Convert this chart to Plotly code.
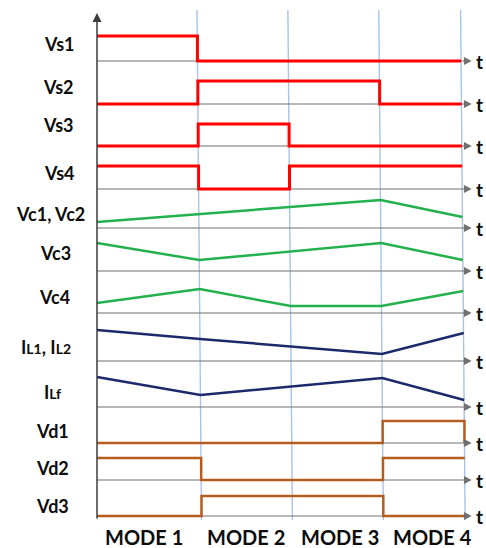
import plotly.graph_objects as go

W, H = 486, 548

# ---- time base -------------------------------------------------------------
# Mode boundaries on the time axis (arbitrary time units)
mode_edges = [0.0, 0.99, 1.89, 2.79, 3.60]
mode_names = ["MODE 1", "MODE 2", "MODE 3", "MODE 4"]

# ---- waveform data ---------------------------------------------------------
row_names = ["Vs1", "Vs2", "Vs3", "Vs4", "Vc1, Vc2", "Vc3", "Vc4",
             "IL1, IL2", "ILf", "Vd1", "Vd2", "Vd3"]

# Gate / diode signals: level held in each of the four modes
vs1_levels = [1.00, 0.00, 0.00, 0.00]
vs2_levels = [0.00, 0.92, 0.92, 0.00]
vs3_levels = [0.00, 0.88, 0.00, 0.00]
vs4_levels = [0.92, 0.00, 0.92, 0.92]
vd1_levels = [0.00, 0.00, 0.00, 0.88]
vd2_levels = [0.88, 0.00, 0.00, 0.88]
vd3_levels = [0.00, 0.80, 0.80, 0.00]
# level reached right after the last boundary (None = line just stops)
vd1_after = 0.0

# Capacitor voltages / inductor currents: values at the mode boundaries
vc12_t = [0, 1, 3, 4]
vc12_v = [0.24, 0.56, 1.12, 0.44]
vc3_t = [0, 1, 3, 4]
vc3_v = [1.12, 0.44, 1.12, 0.44]
vc4_t = [0, 1, 2, 3, 4]
vc4_v = [0.40, 0.96, 0.28, 0.28, 0.88]
il12_t = [0, 1, 3, 4]
il12_v = [1.24, 0.88, 0.28, 1.12]
ilf_t = [0, 1, 3, 4]
ilf_v = [1.20, 0.48, 1.16, 0.28]

# ---- layout constants ------------------------------------------------------
px_per_t = 101.0
origin_px = 97.0
baseline_px = [61, 104, 146, 189, 228, 271, 313, 361, 407, 443, 480, 516]
unit_px = 25.0
lo, hi = -0.4, 1.5
skew_t = 0.045          # mode lines lean slightly to the right towards the bottom
label_pos = [(59, 44), (58, 87), (58, 125), (59, 173), (50, 214), (55, 253),
             (54, 297), (46, 347), (52, 392), (52, 431), (52, 468), (52, 506)]
mode_label_x = [144, 246, 340, 432]
mode_label_y = 537

RED, GREEN, NAVY, BROWN = "#ff0000", "#22b14c", "#1c2a6b", "#b55d1e"
GRAY, AXIS, MODE_LINE, TXT = "#707070", "#3c3c3c", "#a9c5e4", "#0d0d0d"
FONT = "Lato"


def row_shift(i):
    return skew_t * (baseline_px[i] - 10) / 510.0


def step_xy(levels, shift, after=None):
    xs, ys = [], []
    for k, lv in enumerate(levels):
        a = mode_edges[k] + (shift if k > 0 else 0)
        b = mode_edges[k + 1] + shift
        xs += [a, b]
        ys += [lv, lv]
    if after is not None:
        xs.append(mode_edges[-1] + shift)
        ys.append(after)
    return xs, ys


def ramp_xy(idx, vals, shift):
    xs = [mode_edges[k] + (shift if k > 0 else 0) for k in idx]
    return xs, list(vals)


series = [
    ("step", (vs1_levels, None), RED, 3),
    ("step", (vs2_levels, None), RED, 3),
    ("step", (vs3_levels, None), RED, 3),
    ("step", (vs4_levels, None), RED, 3),
    ("ramp", (vc12_t, vc12_v), GREEN, 2.5),
    ("ramp", (vc3_t, vc3_v), GREEN, 2.5),
    ("ramp", (vc4_t, vc4_v), GREEN, 2.5),
    ("ramp", (il12_t, il12_v), NAVY, 2.5),
    ("ramp", (ilf_t, ilf_v), NAVY, 2.5),
    ("step", (vd1_levels, vd1_after), BROWN, 2.5),
    ("step", (vd2_levels, None), BROWN, 2.5),
    ("step", (vd3_levels, None), BROWN, 2.5),
]

fig = go.Figure()
shapes, annotations = [], []
layout_axes = {}

x_lo = -origin_px / px_per_t
x_hi = (W - origin_px) / px_per_t

for i, (kind, data, color, width) in enumerate(series):
    yname = "y" if i == 0 else f"y{i + 1}"
    ykey = "yaxis" if i == 0 else f"yaxis{i + 1}"
    b = baseline_px[i]
    bottom = b - lo * unit_px
    top = b - hi * unit_px
    layout_axes[ykey] = dict(domain=[1 - bottom / H, 1 - top / H], range=[lo, hi],
                             visible=False, fixedrange=True, anchor="x")
    sh = row_shift(i)

    # time axis of this row
    shapes.append(dict(type="line", xref="x", yref=yname, x0=0, x1=3.66, y0=0, y1=0,
                       line=dict(color=GRAY, width=1.2), layer="below"))
    annotations.append(dict(xref="x", yref=yname, x=3.71, y=0, axref="x", ayref=yname,
                            ax=3.62, ay=0, text="", showarrow=True, arrowhead=2,
                            arrowsize=1.3, arrowwidth=1.2, arrowcolor=GRAY, standoff=0))
    annotations.append(dict(xref="x", yref=yname, x=3.79, y=0, text="<b>t</b>",
                            showarrow=False, font=dict(family=FONT, size=19, color=TXT)))

    if kind == "step":
        xs, ys = step_xy(data[0], sh, data[1])
    else:
        xs, ys = ramp_xy(data[0], data[1], sh)
    fig.add_trace(go.Scatter(x=xs, y=ys, mode="lines", xaxis="x", yaxis=yname,
                             line=dict(color=color, width=width), hoverinfo="skip",
                             showlegend=False))

    # row label
    name = row_names[i]
    if name.startswith("IL"):
        parts = [p.strip() for p in name.split(",")]
        name = ", ".join("I<span style='font-size:14px'>" + p[1:] + "</span>" for p in parts)
    lx, ly = label_pos[i]
    annotations.append(dict(xref="paper", yref="paper", x=lx / W, y=1 - ly / H,
                            text=f"<b>{name}</b>", showarrow=False, xanchor="center",
                            yanchor="middle", font=dict(family=FONT, size=18, color=TXT)))

# mode boundary lines
for e in mode_edges[1:]:
    shapes.append(dict(type="line", xref="x", yref="paper", x0=e, x1=e + skew_t,
                       y0=1 - 10 / H, y1=1 - 520 / H,
                       line=dict(color=MODE_LINE, width=1.4), layer="below"))

# vertical axis with arrow
annotations.append(dict(xref="x", yref="paper", x=0, y=1 - 13 / H, axref="pixel",
                        ayref="pixel", ax=0, ay=507, text="", showarrow=True,
                        arrowhead=2, arrowsize=1.2, arrowwidth=1.5, arrowcolor=AXIS,
                        standoff=0))

# mode labels
for name, mx in zip(mode_names, mode_label_x):
    annotations.append(dict(xref="paper", yref="paper", x=mx / W, y=1 - mode_label_y / H,
                            text=f"<b>{name}</b>", showarrow=False, xanchor="center",
                            yanchor="middle", font=dict(family=FONT, size=20, color=TXT)))

fig.update_layout(
    width=W, height=H,
    margin=dict(l=0, r=0, t=0, b=0),
    paper_bgcolor="white", plot_bgcolor="rgba(0,0,0,0)",
    xaxis=dict(range=[x_lo, x_hi], domain=[0, 1], visible=False, fixedrange=True),
    shapes=shapes, annotations=annotations, showlegend=False,
    **layout_axes,
)

fig.write_html("out.html", config={"displayModeBar": False})
